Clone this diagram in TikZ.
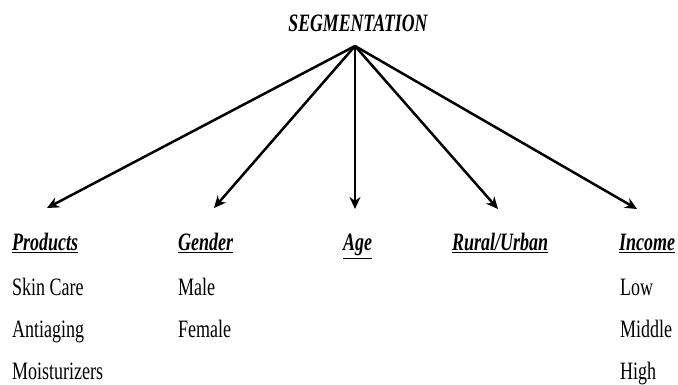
\documentclass[tikz,border=0pt]{standalone}
\usepackage{fontspec}
\setmainfont{Liberation Serif}
\newfontfamily\condfont[FakeStretch=0.72]{Liberation Serif}
\newfontfamily\titlefont[FakeStretch=0.71]{Liberation Serif}
\usetikzlibrary{arrows.meta}
\tikzset{
  title/.style={font=\titlefont\fontsize{25}{25}\selectfont\bfseries\itshape, anchor=base, inner sep=0pt},
  head/.style={font=\condfont\fontsize{25}{25}\selectfont\bfseries\itshape, anchor=base west, inner sep=0pt},
  item/.style={font=\condfont\fontsize{25}{25}\selectfont, anchor=base west, inner sep=0pt},
  conn/.style={line width=2.5pt, -{Stealth[length=12pt,width=11pt]}},
}
\newcommand{\ul}[1]{\underline{#1}}
\begin{document}
\begin{tikzpicture}[x=1pt,y=-1pt]
\useasboundingbox (0,0) rectangle (678,385);
\node[title] (seg) at (358,32) {SEGMENTATION};
\coordinate (apex) at (355,46);
\coordinate (tp) at (47,208);
\coordinate (tg) at (214,208);
\coordinate (ta) at (355,209);
\coordinate (tr) at (498,209);
\coordinate (ti) at (637,209);
\node[head] (prod) at (12,251) {\ul{Products}};
\node[head] (gend) at (178,251) {\ul{Gender}};
\node[head] (age) at (343,251) {\ul{Age}};
\node[head] (rural) at (452,251) {\ul{Rural/Urban}};
\node[head] (inc) at (619,251) {\ul{Income}};
\node[item] (p1) at (12,295) {Skin Care};
\node[item] (p2) at (12,337) {Antiaging};
\node[item] (p3) at (12,379) {Moisturizers};
\node[item] (g1) at (178,295) {Male};
\node[item] (g2) at (178,337) {Female};
\node[item] (i1) at (620,295) {Low};
\node[item] (i2) at (620,337) {Middle};
\node[item] (i3) at (620,379) {High};
\draw[conn] (apex) -- (tp);
\draw[conn] (apex) -- (tg);
\draw[conn] (apex) -- (ta);
\draw[conn] (apex) -- (tr);
\draw[conn] (apex) -- (ti);
\end{tikzpicture}
\end{document}
